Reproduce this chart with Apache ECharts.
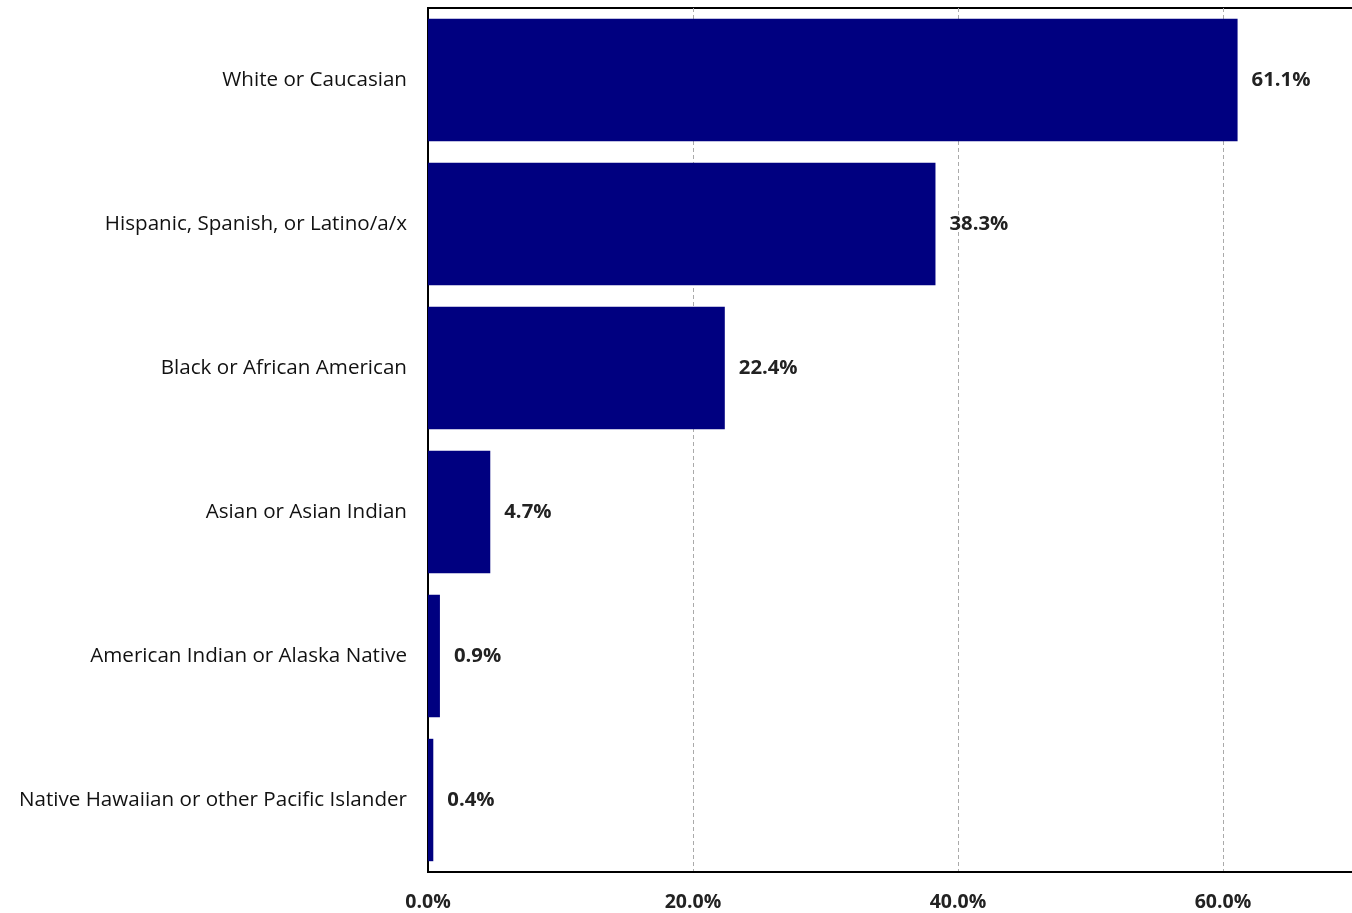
<!DOCTYPE html>
<html><head><meta charset="utf-8">
<script src="https://cdn.jsdelivr.net/npm/echarts@6/dist/echarts.min.js"></script>
<style>html,body{margin:0;padding:0;background:#fff}#c{width:1352px;height:913px}</style>
</head><body><div id="c"></div>
<script>
const categories = ["White or Caucasian","Hispanic, Spanish, or Latino/a/x","Black or African American","Asian or Asian Indian","American Indian or Alaska Native","Native Hawaiian or other Pacific Islander"];
const values = [61.1, 38.3, 22.4, 4.7, 0.9, 0.4];
const xTicks = [0, 20, 40, 60, 80];

const chart = echarts.init(document.getElementById('c'));
chart.setOption({
  animation: false,
  backgroundColor: '#fff',
  grid: {left: 428, top: 8, bottom: 41, width: 1060, outerBoundsMode: 'none', containLabel: false, show: true, borderColor: '#000', borderWidth: 2, backgroundColor: '#fff'},
  xAxis: {
    type: 'value', min: xTicks[0], max: xTicks[xTicks.length-1], interval: 20,
    axisLine: {show: true, lineStyle: {color: '#000', width: 2}},
    axisTick: {show: false},
    splitLine: {show: true, lineStyle: {color: '#aaa', type: [4, 3], width: 1}},
    axisLabel: {formatter: v => v.toFixed(1) + '%', fontFamily: 'Open Sans', fontWeight: 'bold', fontSize: 19.5, color: '#222', margin: 20}
  },
  yAxis: {
    type: 'category', data: categories, inverse: true,
    axisLine: {show: true, lineStyle: {color: '#000', width: 2}},
    axisTick: {show: false},
    axisLabel: {fontFamily: 'Open Sans', fontSize: 20.6, color: '#111', margin: 21, padding: [5, 0, 0, 0]}
  },
  series: [{
    type: 'bar', data: values, barCategoryGap: '15%',
    itemStyle: {color: '#000080'},
    label: {show: true, position: 'right', distance: 14, padding: [5, 0, 0, 0], formatter: p => p.value.toFixed(1) + '%', fontFamily: 'Open Sans', fontWeight: 'bold', fontSize: 20.3, color: '#222'}
  }]
});
</script></body></html>
